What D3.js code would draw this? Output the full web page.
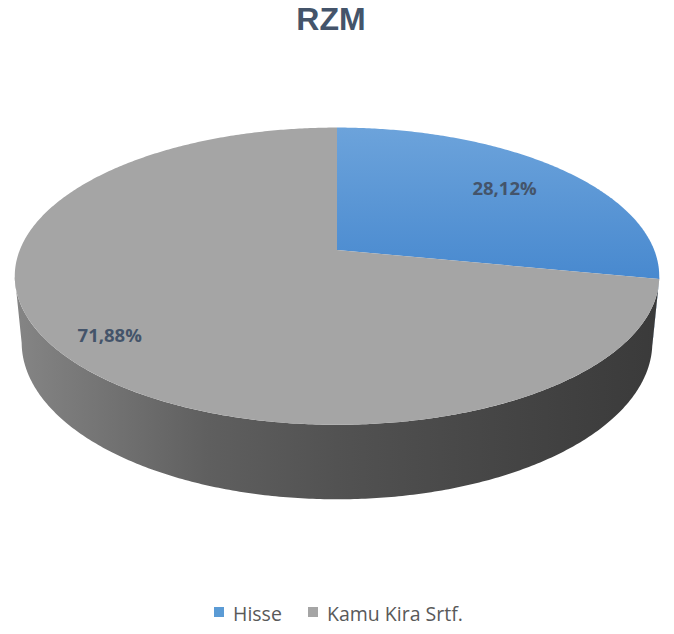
<!DOCTYPE html>
<html>
<head>
<meta charset="utf-8">
<script src="https://cdn.jsdelivr.net/npm/d3@7"></script>
<style>
  body { margin: 0; background: #fff; }
  svg { display: block; }
</style>
</head>
<body>
<div id="content"></div>
<script>
// Chart data.
var title = 'RZM';
var categories = ['Hisse', 'Kamu Kira Srtf.'];
var values = [28.12, 71.88];
var labels = ['28,12%', '71,88%'];

var width = 674;
var height = 634;

var svg = d3.select('#content')
              .append('svg')
              .attr('width', width)
              .attr('height', height);

// Simple perspective camera for the tilted pie.
var cx = 337, cy = 250;
var tilt = 27 * Math.PI / 180;
var cosT = Math.cos(tilt), sinT = Math.sin(tilt);
var dist = 5.06;     // camera distance, in pie radii
var focal = 1605;    // pixels
var thick = 0.236;   // pie thickness, in pie radii

// angle a (radians, clockwise from 12 o'clock), radius r, depth h
function project(a, r, h) {
  var x = r * Math.sin(a);
  var z = -r * Math.cos(a);
  var d = dist - z * cosT + h * sinT;
  return [cx + focal * x / d, cy + focal * (z * sinT + h * cosT) / d];
}

var pie = d3.pie().sort(null).value(function(d) { return d; });
var arcs = pie(values);

var line = d3.line();

function arcPoints(a0, a1, r, h) {
  var n = Math.max(2, Math.ceil(Math.abs(a1 - a0) / 0.01));
  return d3.range(n + 1).map(function(i) {
    return project(a0 + (a1 - a0) * i / n, r, h);
  });
}

// Gradients.
var defs = svg.append('defs');
var side = defs.append('linearGradient')
    .attr('id', 'sideGrad')
    .attr('gradientUnits', 'userSpaceOnUse')
    .attr('x1', 15).attr('x2', 660).attr('y1', 0).attr('y2', 0);
side.append('stop').attr('offset', '0').attr('stop-color', '#858585');
side.append('stop').attr('offset', '0.3').attr('stop-color', '#5f5f5f');
side.append('stop').attr('offset', '0.5').attr('stop-color', '#525252');
side.append('stop').attr('offset', '0.8').attr('stop-color', '#434343');
side.append('stop').attr('offset', '1').attr('stop-color', '#3a3a3a');

var blue = defs.append('linearGradient')
    .attr('id', 'blueGrad')
    .attr('x1', 0).attr('x2', 0).attr('y1', 0).attr('y2', 1);
blue.append('stop').attr('offset', '0').attr('stop-color', '#6ca3db');
blue.append('stop').attr('offset', '1').attr('stop-color', '#4889cf');

var fills = ['url(#blueGrad)', '#a5a5a5'];
var legendColors = ['#5b9bd5', '#a5a5a5'];

// Side wall, visible front part only (between the silhouette points).
var visA0 = Math.PI / 2 + Math.asin(cosT / dist);
var visA1 = 3 * Math.PI / 2 - Math.asin(cosT / dist);
arcs.forEach(function(d) {
  var a0 = Math.max(d.startAngle, visA0);
  var a1 = Math.min(d.endAngle, visA1);
  if (a1 <= a0) return;
  var pts = arcPoints(a0, a1, 1, 0).concat(arcPoints(a1, a0, 1, thick));
  svg.append('path')
      .attr('d', line(pts) + 'Z')
      .attr('fill', d.index === 0 ? '#3f6fa5' : 'url(#sideGrad)');
});

// Top faces.
var g = svg.append('g');
arcs.forEach(function(d) {
  var pts = [project(0, 0, 0)].concat(arcPoints(d.startAngle, d.endAngle, 1, 0));
  g.append('path')
      .attr('d', line(pts) + 'Z')
      .attr('fill', fills[d.index]);
});

// Data labels.
var labelRadius = [0.74, 0.84];
arcs.forEach(function(d) {
  var p = project((d.startAngle + d.endAngle) / 2, labelRadius[d.index], 0);
  svg.append('text')
      .attr('x', p[0])
      .attr('y', p[1] + 7)
      .attr('text-anchor', 'middle')
      .attr('font-family', 'Open Sans, Liberation Sans, sans-serif')
      .attr('font-weight', 'bold')
      .attr('font-size', 18.5)
      .attr('fill', '#44546a')
      .text(labels[d.index]);
});

// Title.
svg.append('text')
    .attr('x', 331)
    .attr('y', 30)
    .attr('text-anchor', 'middle')
    .attr('font-family', 'Liberation Sans, Arial, sans-serif')
    .attr('font-weight', 'bold')
    .attr('font-size', 32)
    .attr('fill', '#44546a')
    .text(title);

// Legend.
var legendX = [214, 308];
var legend = svg.append('g');
categories.forEach(function(c, i) {
  legend.append('rect')
      .attr('x', legendX[i])
      .attr('y', 607)
      .attr('width', 10)
      .attr('height', 10)
      .attr('fill', legendColors[i]);
  legend.append('text')
      .attr('x', legendX[i] + 19)
      .attr('y', 621)
      .attr('font-family', 'Open Sans, Liberation Sans, sans-serif')
      .attr('font-size', 19.5)
      .attr('fill', '#595959')
      .text(c);
});
</script>
</body>
</html>
